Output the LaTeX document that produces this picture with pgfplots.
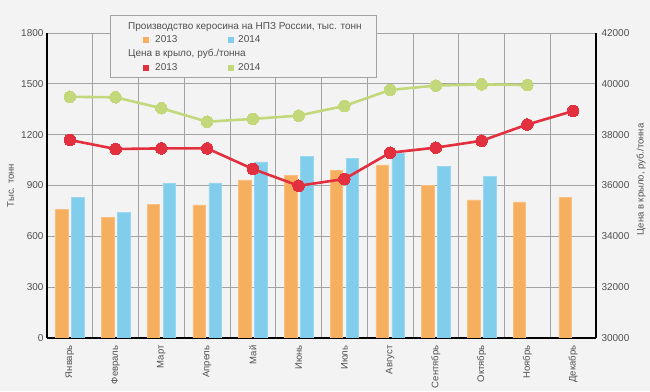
\documentclass[border=0pt]{standalone}
\usepackage{pgfplots}
\pgfplotsset{compat=1.18}
\usepackage{fontspec}
\setmainfont{Liberation Sans}
\definecolor{bgc}{HTML}{F3F3F3}
\definecolor{cor}{HTML}{F6AF5F}
\definecolor{cbl}{HTML}{80CDEC}
\definecolor{cre}{HTML}{E2303F}
\definecolor{cgr}{HTML}{C3D77B}
\definecolor{cgrid}{HTML}{A3A3A3}
\definecolor{ctxt}{HTML}{505050}
\begin{document}
\begin{tikzpicture}
\fill[bgc] (-47pt,-53pt) rectangle (603pt,338pt);
\begin{axis}[
  at={(0pt,0pt)}, anchor=south west,
  scale only axis, width=549pt, height=305pt,
  xmin=-0.5, xmax=11.5, ymin=0, ymax=1800,
  ytick={0,300,...,1800},
  yticklabel style={/pgf/number format/1000 sep={}},
  xtick={0,...,11},
  xticklabels={Январь,Февраль,Март,Апрель,Май,Июнь,Июль,Август,Сентябрь,Октябрь,Ноябрь,Декабрь},
  minor xtick={0.5,1.5,...,10.5},
  xminorgrids=true, ymajorgrids=true,
  major grid style={cgrid, line width=0.8pt},
  minor grid style={cgrid, line width=0.8pt},
  major tick length=0pt, minor tick length=0pt,
  axis x line*=bottom, axis y line*=left,
  x axis line style={black, line width=2pt, -},
  y axis line style={black, line width=1.4pt, -},
  /pgf/number format/assume math mode=true,
  tick label style={font=\fontsize{10}{12}\selectfont, text=ctxt},
  xticklabel style={rotate=90, anchor=east, font=\fontsize{9.5}{11}\selectfont, xshift=-4pt},
  ylabel={Тыс. тонн},
  ylabel style={at={(axis description cs:-0.066,0.5)}, anchor=center, rotate=0, font=\fontsize{9.5}{11}\selectfont, text=ctxt},
  ybar=3.5pt, bar width=12.5pt,
]
\addplot[fill=cor, draw=cor!80!white, line width=0.4pt] coordinates {(0,760) (1,712) (2,790) (3,785) (4,933) (5,958) (6,988) (7,1021) (8,901) (9,815) (10,803) (11,829)};
\addplot[fill=cbl, draw=cbl!80!white, line width=0.4pt] coordinates {(0,828) (1,740) (2,913) (3,915) (4,1039) (5,1074) (6,1060) (7,1088) (8,1015) (9,952)};
\end{axis}
\begin{axis}[
  at={(0pt,0pt)}, anchor=south west,
  scale only axis, width=549pt, height=305pt,
  xmin=-0.5, xmax=11.5, ymin=30000, ymax=42000,
  ytick={30000,32000,...,42000},
  scaled y ticks=false,
  yticklabel style={/pgf/number format/1000 sep={}, xshift=2pt},
  axis x line=none, axis y line*=right,
  y axis line style={black, line width=1.4pt, -},
  major tick length=0pt,
  /pgf/number format/assume math mode=true,
  tick label style={font=\fontsize{10}{12}\selectfont, text=ctxt},
  ylabel={Цена в крыло, руб./тонна},
  ylabel style={at={(axis description cs:1.082,0.52)}, anchor=center, rotate=0, font=\fontsize{9.5}{11}\selectfont, text=ctxt},
  clip=false,
]
\addplot[cgr, line width=2.6pt, mark=*, mark size=5.8pt, mark options={fill=cgr, draw=cgr, line width=0pt}] coordinates {(0,39490) (1,39470) (2,39040) (3,38510) (4,38620) (5,38750) (6,39130) (7,39760) (8,39930) (9,39980) (10,39950)};
\addplot[cre, line width=2.6pt, mark=*, mark size=5.8pt, mark options={fill=cre, draw=cre, line width=0pt}] coordinates {(0,37790) (1,37435) (2,37460) (3,37460) (4,36650) (5,35990) (6,36255) (7,37290) (8,37490) (9,37760) (10,38400) (11,38930)};
\end{axis}
\draw[draw=cgrid, line width=0.8pt, fill=bgc] (63pt,261pt) rectangle (329pt,323pt);
\begin{scope}[every node/.style={inner sep=0pt, text=ctxt, font=\fontsize{10}{12}\selectfont}]
\node[anchor=base west] at (81pt,308pt) {Производство керосина на НПЗ России, тыс. тонн};
\fill[cor] (96pt,295pt) rectangle (102pt,301pt);
\node[anchor=base west] at (108pt,295pt) {2013};
\fill[cbl] (181pt,295pt) rectangle (187pt,301pt);
\node[anchor=base west] at (191pt,295pt) {2014};
\node[anchor=base west] at (81pt,281pt) {Цена в крыло, руб./тонна};
\fill[cre] (96pt,267pt) rectangle (102pt,273pt);
\node[anchor=base west] at (108pt,267pt) {2013};
\fill[cgr] (181pt,267pt) rectangle (187pt,273pt);
\node[anchor=base west] at (191pt,267pt) {2014};
\end{scope}
\end{tikzpicture}
\end{document}
